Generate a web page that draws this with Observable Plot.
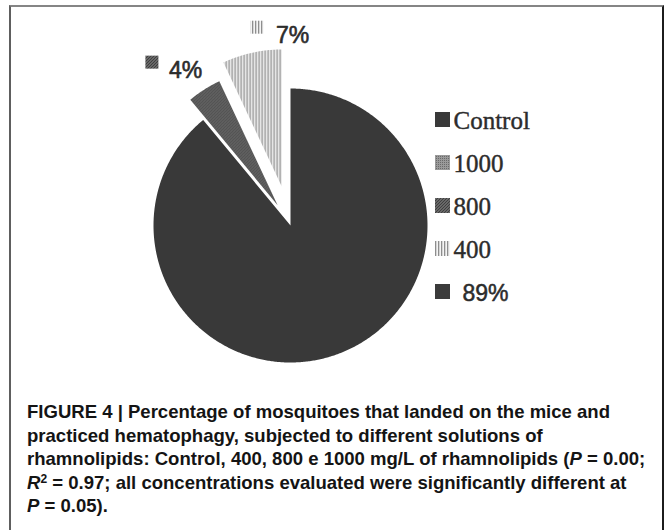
<!DOCTYPE html>
<html><head><meta charset="utf-8">
<script src="https://cdn.jsdelivr.net/npm/d3@7"></script>
<script src="https://cdn.jsdelivr.net/npm/@observablehq/plot@0.6"></script>
<style>
html,body{margin:0;padding:0;background:#fff;width:668px;height:530px;overflow:hidden;}
#frame{position:absolute;left:9px;top:5px;width:651px;height:560px;border-top:2px solid #858585;border-left:2px solid #5e5e5e;border-right:2px solid #1c1c1c;}
#chart{position:absolute;left:0;top:0;}
#caption{position:absolute;left:27px;top:400px;font-family:"Liberation Sans",Arial,sans-serif;font-weight:bold;font-size:18.5px;line-height:23.5px;color:#141414;white-space:nowrap;transform-origin:0 0;}
#caption .sup{font-size:12px;vertical-align:0.5em;line-height:0;}
</style></head><body>
<div id="frame"></div>
<div id="chart"></div>
<div id="caption"></div>
<script>
// ---- data ----
const categories = ["Control", "1000", "800", "400"];
const percents = [89, 0, 4, 7];
const legendLabels = ["Control", "1000", "800", "400", "89%"];
const captionLines = [
  "FIGURE 4 | Percentage of mosquitoes that landed on the mice and",
  "practiced hematophagy, subjected to different solutions of",
  "rhamnolipids: Control, 400, 800 e 1000 mg/L of rhamnolipids (<i>P</i> = 0.00;",
  "<i>R</i><span class=\"sup\">2</span> = 0.97; all concentrations evaluated were significantly different at",
  "<i>P</i> = 0.05)."
];

// ---- styles / layout ----
const fills = {"Control": "#393939", "1000": "url(#p1000)", "800": "url(#p800)", "400": "url(#p400)", "89%": "#3b3b3b"};
const explode = {"Control": 0, "1000": 0, "800": 24, "400": 40};
const W = 668, H = 380;
const cx = 290, cy = 225, r = 137;

// pie layout from data
const total = d3.sum(percents);
let acc = 0;
const slices = categories.map((c, i) => {
  const a0 = acc / total * 2 * Math.PI;
  acc += percents[i];
  const a1 = acc / total * 2 * Math.PI;
  const mid = (a0 + a1) / 2, e = explode[c];
  return {c, p: percents[i], a0, a1, mid, ox: cx + e * Math.sin(mid), oy: cy - e * Math.cos(mid)};
}).filter(s => s.p > 0);

const pts = [];
for (const s of slices) {
  pts.push({c: s.c, x: s.ox, y: s.oy});
  const n = Math.max(2, Math.ceil((s.a1 - s.a0) / Math.PI * 360));
  for (let k = 0; k <= n; k++) {
    const a = s.a0 + (s.a1 - s.a0) * k / n;
    pts.push({c: s.c, x: s.ox + r * Math.sin(a), y: s.oy - r * Math.cos(a)});
  }
  pts.push({c: s.c, x: s.ox, y: s.oy});
}

// outside labels (Control's value goes into the legend, as in the original)
const labelR = {"800": 160, "400": 155};
const labelShift = {"800": {sw: -46, tx: -23}, "400": {sw: 3, tx: 28}};
const labels = slices.filter(s => s.c !== "Control").map(s => {
  const R = labelR[s.c];
  return {c: s.c, text: s.p + "%", x: s.ox + R * Math.sin(s.mid), y: s.oy - R * Math.cos(s.mid)};
});

// legend
const legX = 435, legY0 = 128, legStep = 43;
const legend = legendLabels.map((t, i) => ({t, i, y: legY0 + i * legStep, pct: t.endsWith("%")}));

const sans = "Liberation Sans, Arial, sans-serif";
const serif = "Liberation Serif, Times New Roman, serif";
const ink = "#2c2c2c";

const chart = Plot.plot({
  width: W, height: H, margin: 0,
  x: {domain: [0, W], range: [0, W], axis: null},
  y: {domain: [0, H], range: [0, H], axis: null},
  color: {type: "identity"},
  style: {background: "transparent", overflow: "visible"},
  marks: [
    Plot.line(pts, {x: "x", y: "y", z: "c", fill: d => fills[d.c], stroke: "none", curve: "linear"}),
    // slice labels
    Plot.rect(labels, {x1: d => d.x + labelShift[d.c].sw, x2: d => d.x + labelShift[d.c].sw + 13, y1: d => d.y - 14, y2: d => d.y - 1, fill: d => fills[d.c]}),
    Plot.text(labels, {x: d => d.x + labelShift[d.c].tx, y: d => d.y + 8, text: "text", textAnchor: "start", lineAnchor: "bottom", fontSize: 23, fontFamily: sans, fill: ink, stroke: ink, strokeWidth: 0.6}),
    // legend
    Plot.rect(legend, {x1: legX, x2: legX + 15, y1: d => d.y - 16, y2: d => d.y - 1, fill: d => fills[d.t]}),
    Plot.text(legend.filter(d => !d.pct), {x: legX + 18, y: "y", text: "t", textAnchor: "start", lineAnchor: "bottom", fontSize: 25, fontFamily: serif, fill: ink, stroke: ink, strokeWidth: 0.4}),
    Plot.text(legend.filter(d => d.pct), {x: legX + 27, y: "y", text: "t", textAnchor: "start", lineAnchor: "bottom", fontSize: 23, fontFamily: sans, fill: ink, stroke: ink, strokeWidth: 0.5})
  ]
});

d3.select(chart).insert("defs", ":first-child").html(`
  <pattern id="p400" patternUnits="userSpaceOnUse" width="3" height="4">
    <rect width="3" height="4" fill="#f4f4f4"/>
    <rect x="0" width="1.3" height="4" fill="#8e8e8e"/>
  </pattern>
  <pattern id="p800" patternUnits="userSpaceOnUse" width="3" height="3">
    <rect width="3" height="3" fill="#7c7c7c"/>
    <path d="M0,3 L3,0 M-1,1 L1,-1 M2,4 L4,2" stroke="#3c3c3c" stroke-width="1.2"/>
  </pattern>
  <pattern id="p1000" patternUnits="userSpaceOnUse" width="2" height="2">
    <rect width="2" height="2" fill="#9a9a9a"/>
    <rect width="1" height="1" fill="#6a6a6a"/>
  </pattern>`);

document.getElementById("chart").appendChild(chart);

// caption
const cap = document.getElementById("caption");
cap.innerHTML = captionLines.map(l => `<div><span>${l}</span></div>`).join("");
const w1 = cap.querySelector("span").getBoundingClientRect().width;
cap.style.transform = `scaleX(${583 / w1})`;
</script>
</body></html>
